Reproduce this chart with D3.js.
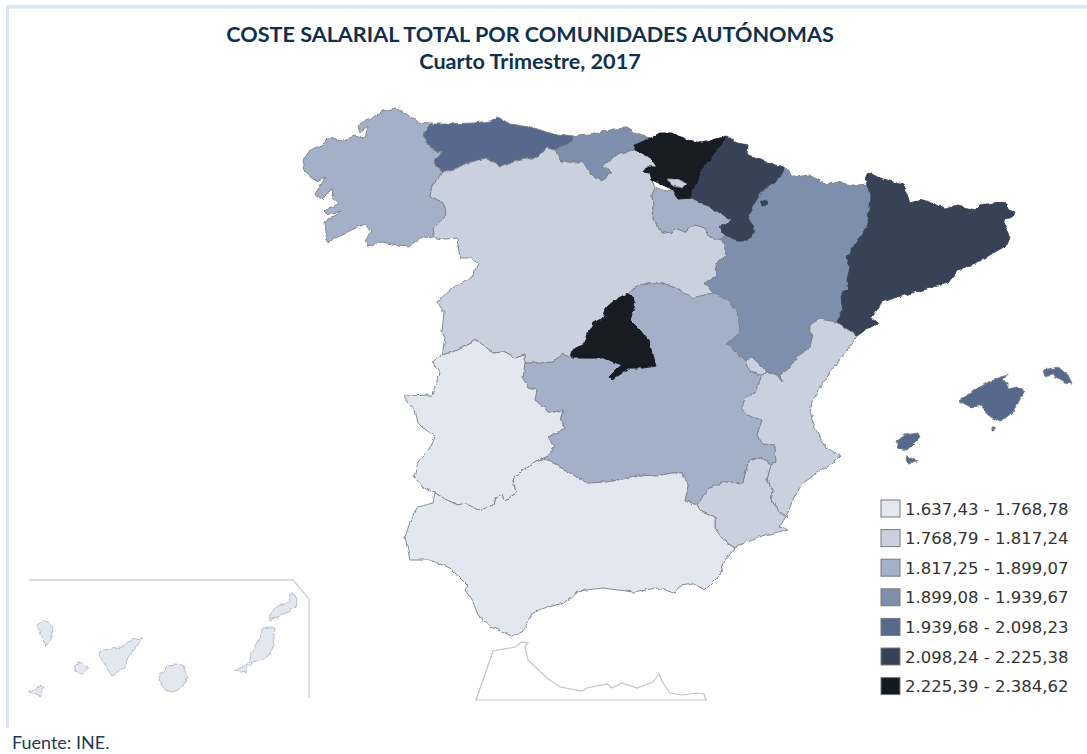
<!DOCTYPE html>
<html>
<head>
<meta charset="utf-8">
<script src="https://cdn.jsdelivr.net/npm/d3@7"></script>
<style>
  html, body { margin: 0; padding: 0; background: #fff; }
  svg { display: block; }
</style>
</head>
<body>
<div id="mapa"></div>
<script>
// Titles and legend
var titulos = ["COSTE SALARIAL TOTAL POR COMUNIDADES AUTÓNOMAS", "Cuarto Trimestre, 2017"];
var fuente = "Fuente: INE.";
var rangos = ["1.637,43 - 1.768,78", "1.768,79 - 1.817,24", "1.817,25 - 1.899,07", "1.899,08 - 1.939,67",
  "1.939,68 - 2.098,23", "2.098,24 - 2.225,38", "2.225,39 - 2.384,62"];
var colores = ["#e3e7ef", "#c9d1df", "#a3b0c8", "#7e8fad", "#57698c", "#384257", "#141a24"];

// Region outlines, in map units
var galicia = [[430,124],[418,123],[410,116],[402,112],[394,108],[383,111],[372,117],[358,125],[360,132],[367,127],[364,138],[355,136],[340,141],[329,138],[320,147],[310,150],[303,160],[305,171],[317,182],[326,177],[315,194],[323,200],[333,187],[332,198],[339,204],[323,210],[328,215],[342,211],[325,222],[327,243],[347,232],[365,224],[371,232],[365,240],[368,247],[382,242],[398,245],[410,246],[423,237],[435,238],[433,228],[447,215],[443,202],[430,197],[432,185],[443,172],[433,162],[442,153],[430,148],[423,135]];
var asturias = [[430,124],[447,124],[473,123],[490,121],[498,117],[510,124],[530,127],[550,133],[573,136],[572,143],[560,147],[555,150],[547,148],[538,157],[520,160],[500,166],[487,158],[467,163],[457,168],[443,172],[433,162],[442,153],[430,148],[423,135]];
var cantabria = [[573,136],[590,135],[613,129],[627,128],[637,134],[650,138],[635,145],[635,150],[620,153],[603,165],[612,173],[602,181],[592,175],[582,162],[560,162],[555,150],[560,147],[572,143]];
var paisVasco = [[650,138],[660,133],[673,133],[687,140],[702,143],[727,136],[720,147],[702,170],[698,183],[692,192],[692,198],[678,199],[673,190],[667,187],[652,180],[650,173],[643,172],[647,167],[657,167],[650,157],[635,150],[635,145]];
var navarra = [[727,136],[737,143],[748,145],[747,155],[755,157],[767,163],[785,167],[780,178],[763,190],[755,202],[748,218],[755,230],[748,240],[737,240],[725,235],[720,227],[732,220],[710,207],[692,198],[692,192],[698,183],[702,170],[720,147]];
var petilla = [[761,202],[766,200],[767,205],[762,206]];
var rioja = [[655,188],[667,191],[673,190],[678,199],[692,198],[710,207],[732,220],[720,227],[725,235],[722,240],[710,237],[705,228],[695,225],[685,232],[675,228],[672,232],[663,233],[652,218],[653,207],[652,195]];
var aragon = [[785,167],[793,177],[810,175],[827,185],[838,182],[857,186],[867,185],[870,195],[868,223],[862,235],[847,257],[850,267],[847,280],[848,288],[840,295],[843,310],[837,322],[818,319],[807,328],[813,335],[810,347],[797,357],[790,368],[780,375],[782,382],[777,375],[767,372],[753,358],[745,360],[727,344],[740,332],[738,313],[727,300],[713,293],[705,283],[717,275],[716,263],[727,255],[722,240],[725,235],[737,240],[748,240],[755,230],[748,218],[755,202],[763,190],[780,178]];
var cataluna = [[867,185],[865,177],[868,173],[883,179],[903,185],[910,203],[923,200],[938,205],[945,208],[958,205],[975,210],[980,205],[1000,202],[1007,203],[1008,210],[1015,212],[1012,217],[1005,219],[1005,227],[1010,237],[1007,245],[995,252],[978,262],[958,270],[948,283],[923,290],[897,297],[883,302],[870,317],[878,324],[868,328],[857,336],[837,322],[843,310],[840,295],[848,288],[847,280],[850,267],[847,257],[862,235],[868,223],[870,195]];
var castillaLeon = [[443,172],[457,168],[467,163],[487,158],[500,166],[520,160],[538,157],[547,148],[555,150],[560,162],[582,162],[592,175],[602,181],[612,173],[603,165],[620,153],[635,150],[650,157],[657,167],[647,167],[643,172],[650,173],[652,180],[655,188],[652,195],[653,207],[652,218],[663,233],[672,232],[675,228],[685,232],[695,225],[705,228],[710,237],[722,240],[727,255],[716,263],[717,275],[705,283],[713,293],[692,298],[680,290],[663,283],[647,283],[635,287],[628,293],[615,300],[607,307],[603,318],[593,323],[582,345],[572,350],[570,358],[563,353],[553,362],[540,363],[525,363],[525,355],[515,358],[503,352],[493,353],[477,340],[458,350],[442,355],[445,338],[442,332],[444,312],[437,302],[453,287],[472,277],[478,263],[470,258],[460,258],[457,238],[445,239],[435,238],[433,228],[447,215],[443,202],[430,197],[432,185]];
var trevino = [[667,179],[678,179],[687,184],[683,188],[672,186]];
var madrid = [[570,358],[572,350],[582,345],[593,323],[603,318],[607,307],[615,300],[628,293],[635,303],[630,320],[640,330],[650,343],[652,355],[656,366],[643,368],[628,368],[622,373],[612,380],[609,377],[618,368],[622,365],[603,358],[583,358]];
var castillaMancha = [[525,363],[540,363],[553,362],[563,353],[570,358],[583,358],[603,358],[622,365],[618,368],[609,377],[612,380],[622,373],[628,368],[643,368],[656,366],[652,355],[650,343],[640,330],[630,320],[635,303],[628,293],[635,287],[647,283],[663,283],[680,290],[692,298],[713,293],[727,300],[738,313],[740,332],[727,344],[745,360],[750,372],[762,375],[755,393],[745,398],[742,408],[747,415],[762,420],[757,435],[763,444],[775,445],[776,462],[771,464],[760,457],[748,462],[743,483],[725,482],[710,488],[697,505],[685,501],[688,485],[682,473],[672,473],[657,476],[638,475],[623,479],[607,482],[587,483],[570,473],[553,463],[545,458],[555,447],[548,437],[565,428],[560,420],[563,410],[550,413],[535,400],[537,390],[528,388],[523,378]];
var valencia = [[837,322],[857,336],[847,350],[832,370],[823,383],[812,402],[810,413],[815,428],[825,447],[841,456],[835,462],[822,470],[803,483],[795,495],[788,512],[786,518],[782,515],[771,500],[773,490],[767,480],[771,464],[776,462],[775,445],[763,444],[757,435],[762,420],[747,415],[742,408],[745,398],[755,393],[762,375],[767,372],[777,375],[782,382],[780,375],[790,368],[797,357],[810,347],[813,335],[807,328],[818,319]];
var rincon = [[753,358],[767,372],[762,375],[750,372],[745,360]];
var murcia = [[771,464],[760,457],[748,462],[743,483],[725,482],[710,488],[697,505],[700,510],[715,517],[715,528],[727,543],[735,548],[750,540],[765,535],[788,530],[780,526],[786,518],[782,515],[771,500],[773,490],[767,480]];
var extremadura = [[525,355],[525,363],[523,378],[528,388],[537,390],[535,400],[550,413],[563,410],[560,420],[565,428],[548,437],[555,447],[545,458],[536,461],[523,470],[513,480],[516,493],[505,501],[503,495],[495,498],[492,507],[478,510],[465,503],[458,505],[447,500],[435,493],[425,489],[414,477],[418,462],[430,448],[435,437],[425,430],[418,423],[415,410],[403,396],[432,395],[440,373],[432,362],[442,355],[458,350],[477,340],[493,353],[503,352],[515,358]];
var andalucia = [[545,458],[553,463],[570,473],[587,483],[607,482],[623,479],[638,475],[657,476],[672,473],[682,473],[688,485],[685,501],[697,505],[700,510],[715,517],[715,528],[727,543],[735,548],[725,560],[720,575],[705,590],[692,583],[682,585],[675,593],[657,588],[633,592],[603,588],[578,591],[565,603],[547,607],[533,613],[525,627],[522,632],[512,636],[493,628],[478,615],[473,602],[465,590],[468,586],[450,568],[430,560],[410,560],[405,537],[410,522],[418,507],[433,503],[435,493],[447,500],[458,505],[465,503],[478,510],[492,507],[495,498],[503,495],[505,501],[516,493],[513,480],[523,470],[536,461]];
var mallorca = [[959,401],[970,393],[980,387],[992,380],[1008,375],[1003,381],[1008,383],[1008,389],[1017,387],[1024,392],[1018,403],[1012,413],[1000,422],[987,415],[982,405],[972,408],[963,403]];
var menorca = [[1043,370],[1058,367],[1068,375],[1072,383],[1065,382],[1053,375],[1045,377]];
var ibiza = [[897,441],[905,435],[918,433],[920,437],[912,445],[907,450],[897,448]];
var formentera = [[907,455],[910,458],[917,462],[908,463],[906,460]];
var cabrera = [[992,427],[995,427],[995,431],[992,431]];
var laPalma = [[37,625],[42,621],[49,621],[53,628],[50,640],[46,647],[42,637]];
var elHierro = [[28,692],[37,688],[40,685],[44,687],[39,697],[35,693]];
var laGomera = [[75,665],[78,662],[83,663],[88,667],[86,671],[82,674],[78,673],[75,670]];
var tenerife = [[98,653],[103,650],[120,648],[132,639],[143,638],[138,645],[128,657],[125,668],[112,676],[105,665]];
var granCanaria = [[167,665],[175,664],[183,666],[185,671],[187,677],[186,682],[183,686],[178,690],[172,692],[166,690],[162,686],[159,680],[160,675],[165,671]];
var fuerteventura = [[263,628],[269,627],[275,627],[274,637],[273,647],[270,653],[267,657],[259,660],[252,663],[247,668],[245,673],[240,672],[235,670],[243,667],[250,662],[251,655],[254,648],[258,640]];
var lanzarote = [[270,620],[272,613],[275,608],[281,605],[288,602],[290,598],[292,593],[296,596],[297,600],[295,606],[291,610],[283,615],[277,617]];
var marcoCanarias = [[29,580],[293,580],[309,599],[309,698]];
var marruecos = [[476,700],[493,651],[515,647],[522,642],[528,643],[525,647],[528,660],[547,678],[560,687],[582,691],[587,688],[607,684],[612,688],[622,683],[637,688],[653,682],[659,674],[663,683],[670,693],[682,695],[697,693],[704,694],[706,700]];

// name, colour class, polygons
var comunidades = [
  ["Galicia", 2, [galicia]], ["Asturias", 4, [asturias]], ["Cantabria", 3, [cantabria]],
  ["Castilla y León", 1, [castillaLeon]], ["La Rioja", 2, [rioja]], ["País Vasco", 6, [paisVasco]],
  ["Condado de Treviño", 1, [trevino]],
  ["Aragón", 3, [aragon]], ["Navarra", 5, [navarra, petilla]], ["Cataluña", 5, [cataluna]],
  ["Castilla-La Mancha", 2, [castillaMancha]], ["Madrid", 6, [madrid]], ["C. Valenciana", 1, [valencia, rincon]],
  ["Murcia", 1, [murcia]], ["Extremadura", 0, [extremadura]], ["Andalucía", 0, [andalucia]],
  ["Baleares", 4, [mallorca, menorca, ibiza, formentera, cabrera]],
  ["Canarias", 0, [laPalma, elHierro, laGomera, tenerife, granCanaria, fuerteventura, lanzarote]]
];

function init() {
  var w = 1087;
  var h = 754;

  var svg = d3.select("#mapa")
    .append("svg")
    .attr("width", w)
    .attr("height", h);

  // Roughens the traced borders the same way on both sides of a shared edge
  var filtro = svg.append("defs").append("filter")
    .attr("id", "borde")
    .attr("filterUnits", "userSpaceOnUse")
    .attr("x", 0).attr("y", 0).attr("width", w).attr("height", h);
  filtro.append("feTurbulence")
    .attr("type", "fractalNoise").attr("baseFrequency", 0.16).attr("numOctaves", 2).attr("seed", 4).attr("result", "ruido");
  filtro.append("feDisplacementMap")
    .attr("in", "SourceGraphic").attr("in2", "ruido").attr("scale", 4)
    .attr("xChannelSelector", "R").attr("yChannelSelector", "G").attr("result", "movido");
  filtro.append("feGaussianBlur").attr("in", "movido").attr("stdDeviation", 0.35);

  // Frame on the top and left of the picture
  svg.append("rect").attr("x", 6).attr("y", 5).attr("width", w - 6).attr("height", 3.5).attr("fill", "#dce6f2");
  svg.append("rect").attr("x", 6).attr("y", 5).attr("width", 3).attr("height", 723).attr("fill", "#dce6f2");

  // Build geojson from the outlines
  var features = comunidades.map(function (d) {
    return {
      type: "Feature",
      properties: { nombre: d[0], clase: d[1] },
      geometry: {
        type: "MultiPolygon",
        coordinates: d[2].map(function (anillo) { return [anillo.concat([anillo[0]])]; })
      }
    };
  });

  var path = d3.geoPath().projection(d3.geoIdentity());
  var colour = d3.scaleOrdinal().domain(d3.range(colores.length)).range(colores);
  var linea = d3.line();

  var mapa = svg.append("g").attr("filter", "url(#borde)");

  mapa.selectAll("path.region")
    .data(features)
    .enter()
    .append("path")
    .attr("class", "region")
    .attr("d", path)
    .attr("fill", function (d) { return colour(d.properties.clase); })
    .attr("stroke", function (d) {
      if (d.properties.nombre === "Canarias") return "#b4b8c0";
      return d.properties.clase > 4 ? colour(d.properties.clase) : "#7b7f87";
    })
    .attr("stroke-width", 0.9)
    .attr("stroke-linejoin", "round");

  // Canary inset frame and the African coast
  svg.append("path").attr("d", linea(marcoCanarias)).attr("fill", "none").attr("stroke", "#cfcfcf").attr("stroke-width", 1.3);
  svg.append("path").attr("d", linea(marruecos) + "Z").attr("fill", "#fff").attr("stroke", "#c4c4c4").attr("stroke-width", 1.2);

  // Legend
  var leyenda = svg.selectAll("g.leyenda")
    .data(rangos)
    .enter()
    .append("g")
    .attr("class", "leyenda")
    .attr("transform", function (d, i) { return "translate(881," + (500 + i * 29.6) + ")"; });
  leyenda.append("rect")
    .attr("width", 19).attr("height", 17)
    .attr("fill", function (d, i) { return colores[i]; })
    .attr("stroke", "#7a7a7a").attr("stroke-width", 1);
  leyenda.append("text")
    .attr("x", 24).attr("y", 14.5)
    .style("font-family", "'DejaVu Sans', sans-serif")
    .style("font-size", "16.5px")
    .attr("fill", "#333")
    .text(function (d) { return d; });

  // Title
  svg.selectAll("text.titulo")
    .data(titulos)
    .enter()
    .append("text")
    .attr("class", "titulo")
    .attr("x", 530)
    .attr("y", function (d, i) { return 42 + i * 27; })
    .attr("text-anchor", "middle")
    .style("font-family", "Lato, sans-serif")
    .style("font-weight", "bold")
    .style("font-size", "21.6px")
    .attr("fill", "#10304f")
    .text(function (d) { return d; });

  svg.append("text")
    .attr("x", 12).attr("y", 749)
    .style("font-family", "Lato, sans-serif")
    .style("font-size", "18px")
    .attr("fill", "#1f3a56")
    .text(fuente);
}
window.onload = init;
</script>
</body>
</html>
